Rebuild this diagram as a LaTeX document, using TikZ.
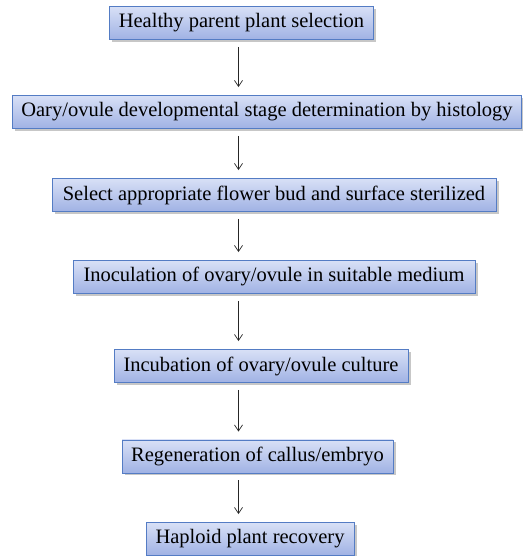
\documentclass[tikz,border=0pt]{standalone}
\usepackage{fontspec}
\setmainfont{Liberation Serif}
\newfontfamily\stepfont{Liberation Serif}
\usetikzlibrary{shadows,arrows.meta}
\definecolor{boxtop}{RGB}{216,224,246}
\definecolor{boxbot}{RGB}{160,178,228}
\definecolor{boxline}{RGB}{84,124,196}
\tikzset{
  stepbox/.style={draw=boxline, line width=0.9pt, top color=boxtop, bottom color=boxbot,
    minimum height=33pt, inner xsep=6pt, font=\stepfont\fontsize{20.5}{22}\selectfont,
    drop shadow={shadow xshift=2.5pt, shadow yshift=-2.5pt, fill=black, opacity=0.22}},
  flow/.style={-{Straight Barb[length=6pt,width=8pt]}, line width=0.7pt, black!85,
    shorten <=7pt, shorten >=8pt}
}
\begin{document}
\begin{tikzpicture}[x=1pt,y=1pt]
\useasboundingbox (0,0) rectangle (522,556);
\node[stepbox, minimum width=264pt] (s1) at (241.5,533) {Healthy parent plant selection};
\node[stepbox, minimum width=509pt] (s2) at (267,444) {Oary/ovule developmental stage determination by histology};
\node[stepbox, minimum width=444pt] (s3) at (274,361) {Select appropriate flower bud and surface sterilized};
\node[stepbox, minimum width=402pt] (s4) at (274,279) {Inoculation of ovary/ovule in suitable medium};
\node[stepbox, minimum width=294pt] (s5) at (261,190) {Incubation of ovary/ovule culture};
\node[stepbox, minimum width=271pt] (s6) at (257.5,99.5) {Regeneration of callus/embryo};
\node[stepbox, minimum width=208pt] (s7) at (250,17) {Haploid plant recovery};
\coordinate (ax) at (238.5,0);
\foreach \a/\b in {s1/s2, s2/s3, s3/s4, s4/s5, s5/s6, s6/s7}
  \draw[flow] (\a.south -| ax) -- (\b.north -| ax);
\end{tikzpicture}
\end{document}
